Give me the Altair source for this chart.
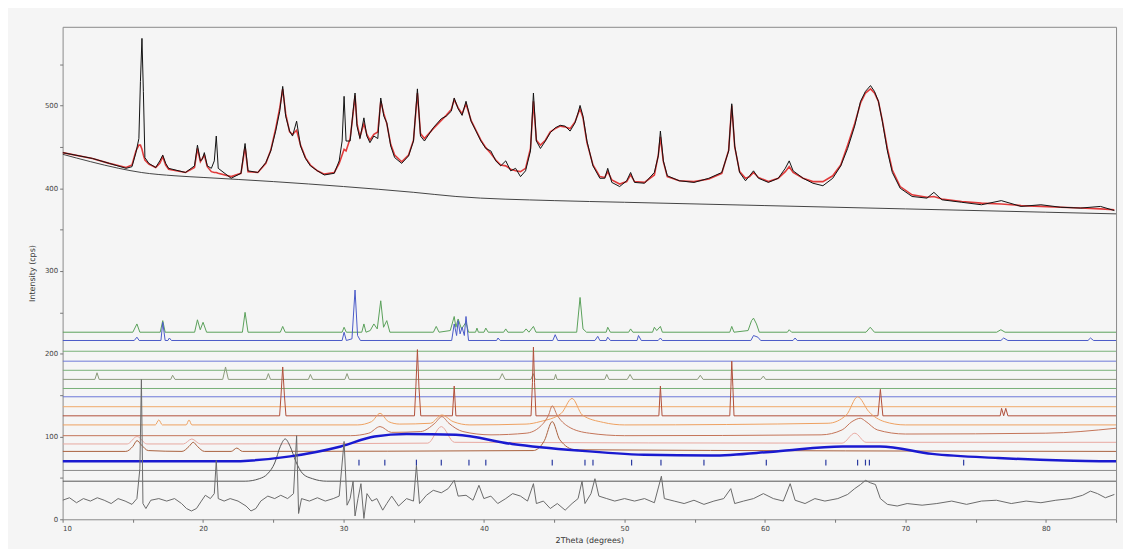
import altair as alt
import pandas as pd

# ---------------- data ----------------
# top pattern: observed and calculated intensity (cps) vs 2theta
OBS_X = [10.00, 12.12, 13.32, 14.52, 14.94, 15.22, 15.43, 15.54, 15.65, 15.75,
         15.86, 16.14, 16.63, 16.92, 17.13, 17.34, 17.55, 18.75, 19.39, 19.60,
         19.81, 19.95, 20.09, 20.30, 20.59, 20.80, 20.94, 21.08, 22.00, 22.70,
         22.99, 23.20, 23.90, 24.47, 24.82, 25.17, 25.46, 25.67, 25.88, 26.16,
         26.37, 26.66, 26.94, 27.29, 27.64, 28.14, 28.63, 29.34, 29.69, 29.90,
         30.04, 30.18, 30.47, 30.68, 30.82, 30.96, 31.17, 31.45, 31.66, 31.88,
         32.16, 32.44, 32.65, 32.87, 33.08, 33.36, 33.64, 34.14, 34.63, 34.98,
         35.26, 35.48, 35.76, 36.39, 36.96, 37.31, 37.67, 37.88, 38.16, 38.44,
         38.72, 39.08, 39.43, 39.78, 40.13, 40.49, 40.84, 41.19, 41.55, 41.90,
         42.25, 42.60, 42.96, 43.31, 43.52, 43.73, 44.02, 44.37, 44.72, 45.07,
         45.43, 45.78, 46.13, 46.48, 46.70, 46.84, 47.05, 47.33, 47.76, 48.25,
         48.60, 48.81, 49.10, 49.66, 50.16, 50.44, 50.72, 51.43, 52.13, 52.41,
         52.56, 52.77, 53.05, 53.90, 54.95, 56.01, 56.93, 57.42, 57.64, 57.85,
         58.20, 58.62, 58.91, 59.19, 59.54, 60.25, 60.95, 61.45, 61.73, 62.01,
         62.72, 63.42, 64.13, 64.83, 65.40, 65.89, 66.39, 66.81, 67.16, 67.52,
         67.80, 68.08, 68.36, 68.72, 69.07, 69.63, 70.48, 71.54, 72.03, 72.60,
         74.01, 75.42, 76.83, 78.24, 79.65, 81.06, 82.48, 83.89, 84.88]
OBS_Y = [443, 436, 430, 424, 426, 443, 460, 529, 581, 517,
         437, 430, 425, 433, 440, 430, 424, 419, 427, 452,
         433, 435, 443, 427, 424, 433, 463, 424, 412, 418,
         454, 421, 419, 431, 445, 469, 493, 523, 487, 469,
         463, 481, 451, 436, 427, 421, 416, 418, 433, 457,
         511, 457, 457, 493, 515, 475, 460, 485, 463, 455,
         463, 460, 509, 487, 479, 451, 437, 430, 439, 457,
         520, 463, 457, 473, 484, 487, 493, 509, 496, 488,
         505, 481, 469, 457, 448, 445, 433, 427, 433, 421,
         424, 414, 421, 445, 515, 457, 448, 457, 467, 473,
         476, 475, 469, 479, 491, 500, 487, 457, 427, 412,
         412, 424, 407, 402, 409, 419, 407, 406, 419, 439,
         469, 433, 415, 409, 407, 412, 419, 445, 502, 451,
         419, 409, 415, 421, 412, 407, 412, 424, 433, 421,
         412, 406, 403, 412, 427, 448, 475, 505, 517, 524,
         517, 505, 481, 445, 419, 400, 390, 388, 395, 386,
         383, 380, 385, 378, 380, 377, 376, 378, 373]
CALC_Y = [443, 436, 430, 425, 428, 445, 452, 452, 447, 440,
          434, 429, 425, 430, 438, 428, 423, 419, 425, 448,
          432, 436, 440, 426, 420, 419, 419, 418, 414, 418,
          450, 420, 419, 430, 446, 472, 497, 520, 490, 468,
          465, 470, 452, 437, 428, 421, 417, 419, 430, 440,
          447, 445, 460, 490, 512, 478, 462, 478, 465, 458,
          465, 468, 505, 490, 478, 453, 440, 432, 440, 458,
          515, 466, 460, 472, 482, 488, 495, 507, 497, 490,
          502, 482, 470, 458, 449, 442, 434, 428, 427, 423,
          421, 420, 424, 448, 505, 458, 452, 458, 468, 472,
          475, 474, 472, 480, 490, 496, 485, 455, 428, 414,
          413, 420, 410, 405, 408, 416, 408, 407, 416, 440,
          462, 432, 414, 409, 408, 411, 418, 446, 500, 450,
          420, 412, 414, 419, 413, 408, 412, 420, 426, 419,
          412, 408, 408, 415, 428, 452, 478, 503, 515, 520,
          515, 505, 482, 448, 422, 402, 392, 389, 390, 387,
          384, 382, 381, 379, 378, 377, 376, 375, 374]

# background of the top pattern
BKG_X = [10, 12, 14, 15.6, 18, 20, 25, 30, 35, 38, 45, 50, 60, 70, 80, 85]
BKG_Y = [441, 432, 424, 419, 415, 413, 408, 402, 395, 390, 385, 383, 379, 375, 371, 369]

# difference curve (bottom)
DIFF_X = [10.00, 10.49, 10.99, 11.48, 11.98, 12.47, 12.96, 13.46, 13.95, 14.45,
          14.94, 15.29, 15.50, 15.61, 15.72, 15.93, 16.28, 16.85, 17.41, 17.97,
          18.47, 18.82, 19.17, 19.53, 19.88, 20.16, 20.52, 20.80, 20.94, 21.08,
          21.50, 21.93, 22.49, 23.06, 23.41, 23.76, 24.11, 24.61, 25.10, 25.53,
          26.02, 26.44, 26.66, 26.80, 27.01, 27.57, 28.14, 28.70, 29.27, 29.69,
          30.04, 30.25, 30.47, 30.68, 30.82, 31.03, 31.24, 31.45, 31.67, 32.02,
          32.37, 32.79, 33.08, 33.43, 33.92, 34.49, 34.98, 35.19, 35.41, 35.90,
          36.39, 36.96, 37.45, 37.88, 38.16, 38.72, 39.22, 39.64, 39.99, 40.49,
          40.98, 41.55, 42.04, 42.60, 43.10, 43.52, 43.73, 44.23, 44.72, 45.22,
          45.78, 46.27, 46.70, 46.98, 47.19, 47.62, 47.90, 48.18, 48.74, 49.31,
          50.01, 50.72, 51.43, 52.13, 52.63, 52.84, 53.54, 54.25, 54.95, 55.66,
          56.37, 57.07, 57.57, 57.85, 58.48, 59.19, 59.89, 60.60, 61.31, 61.80,
          62.15, 62.86, 63.56, 64.27, 65.19, 65.89, 66.39, 66.81, 67.16, 67.52,
          67.87, 68.22, 68.72, 69.42, 70.13, 71.19, 72.24, 73.30, 74.36, 75.42,
          76.48, 77.54, 78.60, 79.65, 80.71, 81.77, 82.62, 83.18, 83.68, 84.24,
          84.88]
DIFF_Y = [23, 26, 20, 25, 22, 26, 23, 19, 25, 22,
          18, 25, 61, 169, 19, 13, 23, 25, 22, 25,
          19, 13, 10, 13, 22, 29, 25, 31, 71, 25,
          22, 25, 22, 16, 10, 13, 22, 28, 25, 29,
          25, 31, 101, 7, 25, 22, 26, 22, 25, 28,
          94, 17, 25, 46, 4, 25, 43, 1, 31, 22,
          25, 11, 19, 28, 16, 25, 22, 65, 19, 29,
          35, 32, 37, 47, 28, 29, 23, 41, 25, 28,
          19, 25, 31, 28, 22, 43, 19, 22, 13, 19,
          11, 19, 25, 46, 19, 31, 49, 28, 25, 22,
          25, 22, 25, 20, 52, 25, 22, 19, 23, 18,
          22, 25, 37, 19, 22, 25, 31, 25, 22, 43,
          23, 19, 25, 22, 25, 30, 37, 42, 47, 44,
          42, 25, 18, 16, 19, 17, 19, 22, 18, 22,
          23, 19, 22, 20, 23, 25, 29, 34, 31, 26,
          30]

# phase patterns (offset)
GREEN_X = [10, 15.0, 15.29, 15.5, 16.95, 17.13, 17.3, 19.4, 19.6, 19.8, 20.0, 20.25,
           22.8, 22.99, 23.2, 25.5, 25.67, 25.85, 29.9, 30.04, 30.2, 31.3, 31.45, 31.6,
           31.9, 32.16, 32.4, 32.65, 32.85, 33.08, 33.3, 36.4, 36.6, 36.8, 37.6, 37.88,
           38.0, 38.16, 38.4, 38.72, 38.9, 39.4, 39.5, 39.6, 40.0, 40.13, 40.3, 41.4,
           41.55, 41.7, 42.8, 43.0, 43.2, 43.52, 43.7, 46.6, 46.84, 47.05, 47.3, 48.7,
           48.81, 49.0, 50.3, 50.44, 50.6, 52.0, 52.13, 52.3, 52.56, 52.7, 57.5, 57.64,
           57.8, 58.8, 59.05, 59.19, 59.4, 59.6, 61.6, 61.73, 61.9, 67.2, 67.5, 67.8,
           76.5, 76.8, 77.1, 85]
GREEN_Y = [226, 226, 236, 226, 226, 240, 226, 226, 241, 229, 238, 226,
           226, 250, 226, 226, 233, 226, 226, 232, 226, 226, 236, 226,
           228, 236, 230, 264, 232, 240, 226, 226, 233, 226, 228, 245,
           232, 242, 230, 238, 226, 226, 231, 226, 226, 231, 226, 226,
           230, 226, 226, 230, 226, 233, 226, 226, 268, 230, 226, 226,
           232, 226, 226, 230, 226, 226, 232, 228, 233, 226, 226, 233,
           226, 228, 240, 243, 236, 226, 226, 229, 226, 226, 232, 226,
           226, 229, 226, 226]

BLUE_X = [10, 15.1, 15.29, 15.45, 17.0, 17.13, 17.3, 17.5, 17.6, 17.75, 29.9, 30.04,
          30.2, 30.6, 30.82, 31.0, 31.2, 37.7, 37.88, 38.05, 38.16, 38.3, 38.44, 38.6,
          38.72, 38.9, 40.9, 41.0, 41.15, 44.9, 45.07, 45.25, 47.9, 48.1, 48.25, 48.7,
          48.81, 49.0, 50.9, 51.0, 51.2, 52.4, 52.56, 52.7, 59.0, 59.19, 59.5, 59.7,
          62.0, 62.15, 62.3, 76.8, 77.0, 77.3, 83.0, 83.18, 83.4, 85]
BLUE_Y = [216, 216, 220, 216, 216, 238, 216, 216, 219, 216, 216, 226,
          216, 218, 277, 222, 216, 216, 236, 222, 240, 224, 232, 222,
          245, 216, 216, 219, 216, 216, 223, 216, 216, 221, 216, 216,
          220, 216, 216, 222, 216, 216, 219, 216, 216, 222, 220, 216,
          216, 219, 216, 216, 219, 216, 216, 219, 216, 216]

SMALL_X = [10, 12.3, 12.45, 12.6, 17.7, 17.83, 18.0, 21.4, 21.6, 21.8, 24.5, 24.65,
           24.8, 27.5, 27.64, 27.8, 30.1, 30.25, 30.4, 41.1, 41.3, 41.5, 43.35, 43.5,
           43.65, 45.0, 45.1, 45.2, 48.6, 48.74, 48.9, 50.2, 50.4, 50.6, 55.2, 55.4,
           55.6, 59.7, 59.89, 60.05, 85]
SMALL_Y = [169, 169, 177, 169, 169, 174, 169, 169, 184, 169, 169, 176,
           169, 169, 175, 169, 169, 176, 169, 169, 176, 169, 169, 176,
           169, 169, 175, 169, 169, 175, 169, 169, 175, 169, 169, 174,
           169, 169, 173, 169, 169]

SHARP_X = [10, 25.45, 25.55, 25.67, 25.79, 25.9, 35.05, 35.15, 35.26, 35.37, 35.5,
           37.75, 37.88, 38.0, 43.35, 43.45, 43.52, 43.6, 43.7, 52.45, 52.56, 52.68,
           57.5, 57.58, 57.64, 57.72, 57.8, 68.05, 68.22, 68.4, 76.75, 76.85, 77.0,
           77.15, 77.3, 85]
SHARP_Y = [125, 125, 150, 184, 150, 125, 125, 160, 205, 160, 125,
           125, 161, 125, 125, 165, 208, 165, 125, 125, 161, 125,
           125, 160, 191, 160, 125, 125, 157, 125, 125, 134, 125,
           134, 125, 125]

ORANGE_X = [10, 16.6, 16.85, 17.1, 18.8, 19.0, 19.2, 31.0, 32.0, 32.6, 33.2, 34.0,
            36.2, 37.0, 37.8, 39.0, 43.0, 44.0, 45.5, 46.27, 47.0, 48.5, 50.0, 64.5,
            65.8, 66.6, 67.4, 68.5, 70.0, 85]
ORANGE_Y = [114, 114, 120, 114, 114, 120, 114, 114, 118, 128, 118, 115,
            116, 126, 118, 114, 115, 118, 128, 146, 126, 117, 114, 116,
            126, 148, 130, 118, 114, 114]

RUST_X = [10, 30.5, 31.8, 32.6, 33.4, 35.5, 36.5, 37.0, 37.5, 38.5, 40.5, 43.0, 44.0,
          44.6, 44.86, 45.2, 46.0, 47.5, 50.0, 64.0, 65.5, 66.2, 66.8, 67.2, 68.0,
          70.0, 80.0, 85]
RUST_Y = [101, 101, 104, 112, 105, 106, 116, 124, 116, 106, 102, 104, 112,
          126, 137, 126, 112, 104, 101, 102, 108, 118, 122, 118, 108,
          103, 104, 110]

PINK_X = [10, 14.6, 15.3, 16.0, 18.6, 19.2, 19.8, 36.0, 36.96, 37.9, 65.5, 66.4, 67.2, 85]
PINK_Y = [91, 91, 100, 91, 91, 97, 91, 92, 112, 93, 92, 104, 93, 93]

BROWN_X = [10, 14.5, 15.0, 15.3, 15.6, 16.1, 18.5, 19.0, 19.3, 19.6, 20.1, 22.0, 22.4,
           22.8, 43.5, 44.3, 44.86, 45.4, 46.5, 85]
BROWN_Y = [82, 82, 88, 95, 90, 83, 82, 88, 93, 88, 82, 82, 86,
           82, 83, 95, 118, 96, 84, 82]

# broad amorphous-like contribution (thick blue)
WIDE_X = [10, 21.6, 26.2, 29.8, 32.2, 34.5, 38.0, 42.0, 46.7, 51.4, 56.2, 60.8,
          65.5, 68.2, 71.9, 76.6, 81.3, 85]
WIDE_Y = [70, 70, 76, 88, 100, 103, 102, 91, 83, 78, 77, 82,
          88, 88, 79, 74, 71, 70]

# gray phase with a single broad peak
HUMP_X = [10, 23.0, 24.0, 24.6, 25.1, 25.5, 25.85, 26.2, 26.6, 27.1, 27.8, 28.8, 85]
HUMP_Y = [46, 46, 49, 55, 68, 88, 97, 88, 70, 55, 49, 46, 46]

# flat offset lines (levels, cps) and their colours
FLAT_LEVELS = [203, 191, 180, 158, 148, 136, 59]
FLAT_COLORS = ["#78b078", "#6c78d8", "#78b078", "#78b078", "#6c78d8", "#f0a868", "#888888"]

# reflection tick marks
TICK_X = [31.1, 32.94, 35.19, 36.96, 38.93, 40.13, 44.86, 47.19, 47.76, 50.51,
          52.6, 55.66, 60.1, 64.34, 66.6, 67.16, 67.44, 74.15]
TICK_LO, TICK_HI = 65, 72

# ---------------- chart ----------------
FONT = "DejaVu Sans"
xs = alt.Scale(domain=[10, 85], nice=False, zero=False)
ys = alt.Scale(domain=[0, 595], nice=False, zero=False)

x_axis = alt.Axis(values=list(range(10, 86, 5)),
                  labelExpr="datum.value % 10 == 0 ? datum.label : ''",
                  title="2Theta (degrees)", grid=False, domain=False,
                  tickSize=3, tickColor="#777", labelOverlap=False,
                  labelFontSize=7, labelColor="#444", labelFont=FONT, labelPadding=2,
                  titleFontSize=8, titleFontWeight="normal", titleColor="#333",
                  titleFont=FONT, titlePadding=5)
y_axis = alt.Axis(values=list(range(0, 600, 50)),
                  labelExpr="datum.value % 100 == 0 ? datum.label : ''",
                  title="Intensity (cps)", grid=False, domain=False,
                  tickSize=3, tickColor="#777", labelOverlap=False,
                  labelFontSize=7, labelColor="#444", labelFont=FONT, labelPadding=2,
                  titleFontSize=8, titleFontWeight="normal", titleColor="#333",
                  titleFont=FONT, titlePadding=8)

X = alt.X("x:Q", scale=xs, axis=x_axis)
Y = alt.Y("y:Q", scale=ys, axis=y_axis)


def line(xv, yv, color, width=1.0, interp="linear", opacity=1.0):
    df = pd.DataFrame({"x": xv, "y": yv})
    return alt.Chart(df).mark_line(color=color, strokeWidth=width,
                                   interpolate=interp, opacity=opacity,
                                   clip=True).encode(x=X, y=Y)


layers = []
for lev, col in zip(FLAT_LEVELS, FLAT_COLORS):
    layers.append(line([10, 85], [lev, lev], col, 1.0))

layers += [
    line(GREEN_X, GREEN_Y, "#5aa05a", 1.0),
    line(BLUE_X, BLUE_Y, "#4a5ac8", 1.0),
    line(SMALL_X, SMALL_Y, "#8a9a7a", 1.0),
    line(SHARP_X, SHARP_Y, "#b0503a", 1.0),
    line(ORANGE_X, ORANGE_Y, "#eea060", 1.0, "monotone"),
    line(RUST_X, RUST_Y, "#c47458", 1.0, "monotone"),
    line(PINK_X, PINK_Y, "#e8a8a0", 1.0, "monotone"),
    line(BROWN_X, BROWN_Y, "#a8603c", 1.0, "monotone"),
    line(HUMP_X, HUMP_Y, "#555555", 1.0, "monotone"),
    line(WIDE_X, WIDE_Y, "#1a1ad0", 2.5, "monotone"),
    line(DIFF_X, DIFF_Y, "#6a6a6a", 1.0),
]

tick_df = pd.DataFrame({"x": TICK_X, "lo": [TICK_LO] * len(TICK_X), "hi": [TICK_HI] * len(TICK_X)})
layers.append(alt.Chart(tick_df).mark_rule(color="#2a3aa0", strokeWidth=1.2).encode(
    x=X, y=alt.Y("lo:Q", scale=ys, axis=y_axis), y2="hi:Q"))

layers += [
    line(BKG_X, BKG_Y, "#444444", 1.0, "monotone"),
    line(OBS_X, CALC_Y, "#e03a3a", 1.6),
    line(OBS_X, OBS_Y, "#111111", 1.0),
]

chart = alt.layer(*layers).properties(
    width=1061, height=496,
    autosize=alt.AutoSizeParams(type="none"),
    padding={"left": 55, "top": 17, "right": 7, "bottom": 28},
    background="#f5f5f5",
).configure_view(stroke="#8a8a8a", strokeWidth=1, fill="#f5f5f5")

chart.save("out.html", embed_options={"renderer": "svg", "actions": False})
